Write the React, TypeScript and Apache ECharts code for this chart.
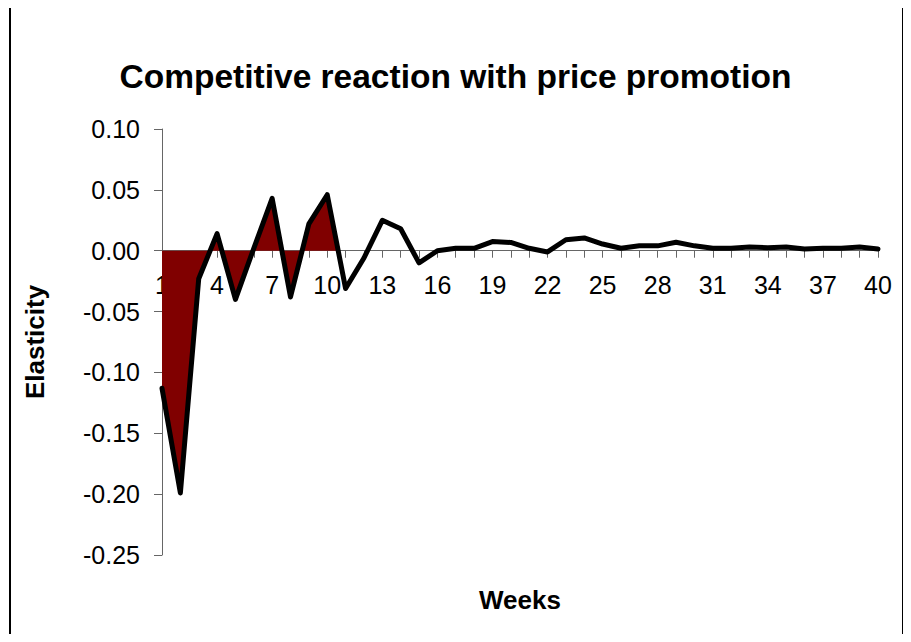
import React, { useEffect, useRef } from "react";
import * as echarts from "echarts";

const weeks: number[] = [
  1, 2, 3, 4, 5, 6, 7, 8, 9, 10, 11, 12, 13, 14, 15, 16, 17, 18, 19, 20,
  21, 22, 23, 24, 25, 26, 27, 28, 29, 30, 31, 32, 33, 34, 35, 36, 37, 38, 39, 40,
];

const elasticity: number[] = [
  -0.113, -0.199, -0.023, 0.014, -0.04, 0.002, 0.043, -0.038, 0.022, 0.046,
  -0.031, -0.006, 0.025, 0.018, -0.01, 0.0, 0.002, 0.002, 0.0075, 0.0068,
  0.002, -0.001, 0.009, 0.0105, 0.0055, 0.002, 0.004, 0.004, 0.007, 0.004,
  0.002, 0.002, 0.003, 0.0025, 0.003, 0.0015, 0.002, 0.002, 0.003, 0.0015,
];

// number of weeks covered by the promotion (shaded area)
const promoWeeks = 10;

const shownWeekLabels: number[] = [1, 4, 7, 10, 13, 16, 19, 22, 25, 28, 31, 34, 37, 40];

const yTicks = { min: -0.25, max: 0.1, step: 0.05 };

const W = 911;
const H = 642;
const GRID = { left: 162, right: 33, top: 129, bottom: 87 };

export default function App() {
  const ref = useRef<HTMLDivElement>(null);

  useEffect(() => {
    if (!ref.current) return;
    const chart = echarts.init(ref.current, undefined, { renderer: "svg" });

    const lineData = weeks.map((w, i) => [w, elasticity[i]]);
    const areaData: number[][] = weeks
      .slice(0, promoWeeks)
      .map((w, i) => [w, elasticity[i]]);
    // area ends where the line crosses zero after the last promo week
    const vA = elasticity[promoWeeks - 1];
    const vB = elasticity[promoWeeks];
    if (vA > 0 && vB < 0) {
      areaData.push([weeks[promoWeeks - 1] + vA / (vA - vB), 0]);
    }

    const font = "'Liberation Sans', Arial, sans-serif";

    chart.setOption({
      animation: false,
      backgroundColor: "transparent",
      title: {
        text: "Competitive reaction with price promotion",
        left: "center",
        top: 54,
        textStyle: {
          fontFamily: font,
          fontSize: 33.5,
          fontWeight: "bold",
          color: "#000",
        },
      },
      graphic: [
        {
          type: "text",
          x: 520,
          y: 600,
          style: {
            text: "Weeks",
            fontFamily: font,
            fontSize: 26,
            fontWeight: "bold",
            fill: "#000",
            align: "center",
            verticalAlign: "middle",
          },
          silent: true,
        },
      ],
      grid: { ...GRID },
      xAxis: {
        type: "value",
        min: 1,
        max: 40,
        interval: 1,
        position: "bottom",
        offset: 0,
        axisLine: {
          onZero: false,
          lineStyle: { color: "#666", width: 1 },
        },
        axisTick: { show: true, length: 7, lineStyle: { color: "#666" } },
        splitLine: { show: false },
        axisLabel: {
          margin: 22,
          fontFamily: font,
          fontSize: 25,
          color: "#000",
          showMinLabel: true,
          showMaxLabel: true,
          formatter: (v: number) =>
            shownWeekLabels.includes(Math.round(v)) ? String(Math.round(v)) : "",
        },
      },
      yAxis: {
        type: "value",
        min: yTicks.min,
        max: yTicks.max,
        interval: yTicks.step,
        name: "Elasticity",
        nameLocation: "middle",
        nameRotate: 90,
        nameGap: 114,
        nameTextStyle: {
          fontFamily: font,
          fontSize: 26,
          fontWeight: "bold",
          color: "#000",
        },
        axisLine: { show: true, lineStyle: { color: "#666", width: 1 } },
        axisTick: { show: true, length: 8, lineStyle: { color: "#666" } },
        splitLine: { show: false },
        axisLabel: {
          margin: 22,
          fontFamily: font,
          fontSize: 25,
          color: "#000",
          formatter: (v: number) => v.toFixed(2),
        },
      },
      series: [
        {
          name: "Promotion",
          type: "line",
          data: areaData,
          showSymbol: false,
          lineStyle: { width: 0 },
          areaStyle: { color: "#800000", opacity: 1, origin: 0 },
          z: 2,
        },
        {
          name: "Elasticity",
          type: "line",
          data: lineData,
          showSymbol: false,
          lineStyle: { color: "#000", width: 5, join: "round", cap: "round" },
          z: 3,
        },
      ],
    });

    // place the category axis on the zero line of the value axis
    const zeroY = chart.convertToPixel({ yAxisIndex: 0 }, 0) as number;
    if (typeof zeroY === "number" && isFinite(zeroY)) {
      const gridBottomY = H - GRID.bottom;
      chart.setOption({ xAxis: { offset: zeroY - gridBottomY } });
    }

    return () => chart.dispose();
  }, []);

  return (
    <div
      style={{
        position: "relative",
        width: W,
        height: H,
        margin: -8,
        background: "#fff",
        overflow: "hidden",
      }}
    >
      <div
        style={{
          position: "absolute",
          left: 9,
          top: 3,
          width: 895,
          height: 660,
          border: "2px solid #000",
          boxSizing: "border-box",
        }}
      />
      <div
        ref={ref}
        style={{ position: "absolute", left: 0, top: 0, width: W, height: H }}
      />
    </div>
  );
}
